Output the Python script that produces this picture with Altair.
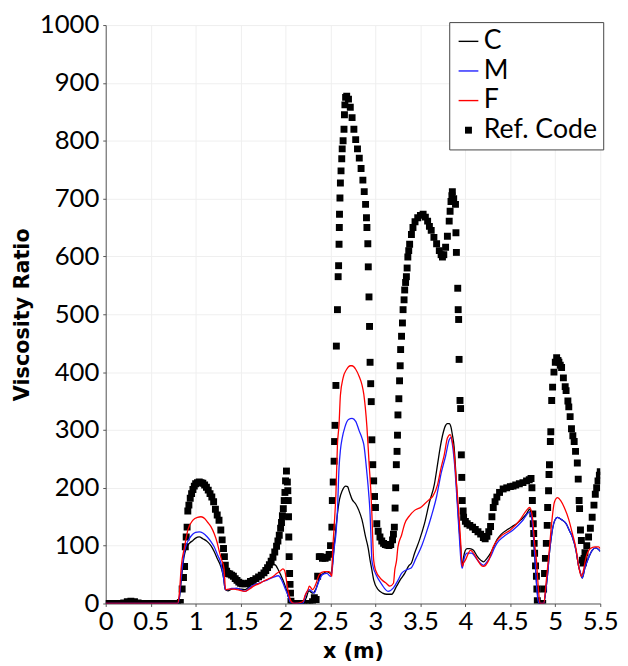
import altair as alt
import pandas as pd

SERIES = ["C", "M", "F", "Ref. Code"]
COLORS = ["#000000", "#1f1fff", "#ff0000", "#000000"]
BAR = "M-1,-0.07H1V0.07H-1Z"
SQUARE = "M-0.35,-0.35H0.35V0.35H-0.35Z"
SHAPES = [BAR, BAR, BAR, SQUARE]

X_TICKS = [0, 0.5, 1, 1.5, 2, 2.5, 3, 3.5, 4, 4.5, 5, 5.5]
Y_TICKS = list(range(0, 1001, 50))

REF_X = [0.00, 0.04, 0.08, 0.12, 0.16, 0.20, 0.24, 0.28, 0.32, 0.36, 0.40, 0.44, 0.48, 0.52, 0.56, 0.60,
         0.64, 0.68, 0.72, 0.76, 0.80, 0.83, 0.85, 0.865, 0.877, 0.885, 0.895, 0.905, 0.913, 0.925, 0.94,
         0.955, 0.97, 0.985, 1.00, 1.02, 1.04, 1.06, 1.08, 1.10, 1.12, 1.14, 1.16, 1.18, 1.20, 1.22, 1.24,
         1.26, 1.28, 1.295, 1.31, 1.32, 1.33, 1.345, 1.36, 1.38, 1.40, 1.42, 1.44, 1.46, 1.48, 1.50, 1.52,
         1.55, 1.58, 1.61, 1.64, 1.67, 1.70, 1.73, 1.76, 1.78, 1.80, 1.82, 1.84, 1.86, 1.88, 1.90, 1.915,
         1.93, 1.945, 1.955, 1.965, 1.975, 1.985, 1.993, 2.00, 2.01, 2.02, 2.025, 2.03, 2.033, 2.036, 2.04,
         2.045, 2.05, 2.055, 2.06, 2.08, 2.12, 2.16, 2.20, 2.24, 2.27, 2.30, 2.32, 2.34, 2.357, 2.375, 2.39,
         2.41, 2.44, 2.465, 2.485, 2.50, 2.515, 2.52, 2.53, 2.54, 2.545, 2.55, 2.56, 2.565, 2.577, 2.585,
         2.59, 2.595, 2.598, 2.60, 2.605, 2.61, 2.617, 2.625, 2.63, 2.64, 2.65, 2.655, 2.66, 2.668, 2.68,
         2.70, 2.72, 2.74, 2.76, 2.78, 2.80, 2.82, 2.84, 2.86, 2.875, 2.89, 2.90, 2.905, 2.915, 2.92, 2.928,
         2.934, 2.94, 2.947, 2.953, 2.96, 2.97, 2.98, 2.99, 3.00, 3.015, 3.03, 3.05, 3.07, 3.09, 3.11, 3.13,
         3.15, 3.17, 3.19, 3.20, 3.21, 3.218, 3.225, 3.232, 3.24, 3.245, 3.25, 3.26, 3.268, 3.275, 3.28,
         3.29, 3.30, 3.307, 3.318, 3.325, 3.335, 3.344, 3.352, 3.36, 3.37, 3.38, 3.40, 3.417, 3.44, 3.47,
         3.50, 3.53, 3.555, 3.58, 3.60, 3.62, 3.65, 3.68, 3.71, 3.73, 3.745, 3.76, 3.78, 3.80, 3.82, 3.83,
         3.84, 3.85, 3.855, 3.87, 3.89, 3.895, 3.90, 3.915, 3.92, 3.925, 3.93, 3.94, 3.947, 3.955, 3.96,
         3.965, 3.975, 3.98, 4.00, 4.02, 4.05, 4.08, 4.11, 4.14, 4.17, 4.20, 4.22, 4.24, 4.26, 4.28, 4.295,
         4.31, 4.33, 4.35, 4.38, 4.42, 4.46, 4.50, 4.53, 4.56, 4.60, 4.64, 4.68, 4.71, 4.73, 4.74, 4.745,
         4.75, 4.755, 4.76, 4.765, 4.77, 4.78, 4.79, 4.795, 4.80, 4.81, 4.83, 4.85, 4.86, 4.87, 4.88, 4.89,
         4.90, 4.91, 4.915, 4.925, 4.93, 4.935, 4.945, 4.95, 4.96, 4.97, 4.985, 5.00, 5.015, 5.03, 5.04,
         5.055, 5.07, 5.09, 5.11, 5.12, 5.14, 5.15, 5.165, 5.18, 5.195, 5.21, 5.225, 5.245, 5.255, 5.265,
         5.27, 5.28, 5.29, 5.30, 5.31, 5.32, 5.33, 5.35, 5.37, 5.39, 5.41, 5.43, 5.445, 5.46, 5.475, 5.49,
         5.50]
REF_Y = [0, 0, 0, 0, 0, 1, 3, 4, 3, 1, 0, 0, 0, 0, 0, 0,
         0, 0, 0, 0, 0, 2, 25, 45, 64, 98, 115, 132, 160, 170, 182,
         190, 197, 203, 207, 209, 210, 209, 208, 205, 201, 196, 190, 184, 176, 163, 153,
         144, 127, 110, 95, 81, 66, 56, 52, 51, 49, 47, 43, 40, 37, 35, 34,
         34, 35, 38, 40, 43, 46, 49, 53, 57, 62, 67, 73, 80, 89, 99, 108,
         118, 130, 140, 152, 164, 178, 192, 212, 229, 210, 195, 178, 150, 115, 81,
         52, 33, 18, 4, 0, 0, 0, 0, 0, 0, 3, 10, 7, 47, 81, 81,
         78, 78, 80, 85, 100, 132, 178, 210, 246, 280, 308, 377, 445, 508, 565,
         584, 621, 650, 673, 701, 727, 748, 769, 786, 800, 820, 845, 862, 875, 877,
         872, 858, 840, 820, 802, 786, 770, 752, 732, 712, 690, 667, 650, 622, 582, 530,
         479, 417, 380, 349, 283, 240, 212, 185, 166, 138, 125, 115, 108, 104, 102, 101,
         100, 102, 110, 120, 132, 165, 200, 240, 263, 291, 326, 354, 385, 411, 439,
         462, 485, 508, 525, 542, 555, 565, 580, 599, 610, 621, 638, 650, 660, 667,
         671, 673, 668, 661, 652, 645, 633, 622, 610, 603, 599, 603, 616, 635, 661, 678,
         695, 705, 712, 700, 690, 641, 607, 545, 508, 491, 422, 351, 337, 257, 218,
         178, 160, 149, 142, 138, 135, 132, 128, 124, 120, 114, 112, 116, 124, 133, 150,
         166, 176, 184, 192, 198, 200, 202, 203, 205, 207, 209, 212, 214, 216, 200, 178,
         155, 138, 121, 104, 87, 65, 47, 25, 5, -15, -30, -15, 0, 25, 52, 78,
         104, 135, 166, 195, 223, 240, 280, 297, 351, 374, 400, 417, 425, 420, 417,
         412, 408, 390, 375, 368, 350, 340, 323, 302, 290, 280, 263, 243, 215, 178,
         164, 127, 109, 75, 70, 78, 88, 100, 115, 130, 149, 170, 189, 200, 212, 222,
         228]

C_X = [0, 0.80, 0.82, 0.84, 0.87, 0.895, 0.93, 0.97, 1.0, 1.04, 1.08, 1.13, 1.17, 1.206, 1.24, 1.28, 1.31,
       1.33, 1.36, 1.40, 1.46, 1.50, 1.55, 1.60, 1.645, 1.70, 1.75, 1.80, 1.83, 1.86, 1.88, 1.92, 1.95,
       1.97, 2.00, 2.03, 2.06, 2.10, 2.20, 2.23, 2.26, 2.30, 2.34, 2.38, 2.42, 2.46, 2.50, 2.52, 2.54,
       2.56, 2.577, 2.60, 2.63, 2.67, 2.69, 2.71, 2.74, 2.78, 2.815, 2.85, 2.89, 2.92, 2.94, 2.96, 2.98,
       3.03, 3.08, 3.125, 3.18, 3.235, 3.28, 3.325, 3.37, 3.40, 3.435, 3.49, 3.545, 3.60, 3.655, 3.69,
       3.72, 3.745, 3.78, 3.80, 3.82, 3.84, 3.855, 3.875, 3.89, 3.91, 3.93, 3.95, 3.965, 3.98, 4.00, 4.02,
       4.05, 4.09, 4.13, 4.17, 4.20, 4.24, 4.28, 4.32, 4.35, 4.40, 4.46, 4.52, 4.57, 4.62, 4.68, 4.715,
       4.74, 4.76, 4.78, 4.80, 4.82, 4.87, 4.90, 4.92, 4.93, 4.96, 4.99, 5.025, 5.07, 5.12, 5.16, 5.19,
       5.23, 5.26, 5.285, 5.30, 5.33, 5.36, 5.41, 5.45, 5.50]
C_Y = [0, 0, 10, 40, 80, 95, 104, 109, 113, 115, 112, 107, 100, 90, 78, 64, 45,
       24, 22, 25, 26, 25, 24, 30, 35, 41, 47, 57, 64, 67, 67, 58, 48,
       41, 28, 13, 2, 0, 0, 10, 22, 18, 26, 45, 52, 55, 52, 65, 98,
       130, 155, 180, 195, 203, 202, 193, 180, 172, 161, 145, 115, 95, 75, 58, 41,
       24, 18, 16, 16, 30, 42, 52, 65, 70, 87, 110, 138, 175, 206, 240,
       270, 290, 308, 311, 311, 305, 292, 270, 235, 180, 132, 90, 64, 80, 92, 95,
       95, 92, 82, 75, 72, 78, 87, 100, 110, 120, 127, 133, 138, 145, 155, 163,
       150, 110, 60, 20, 0, 0, 30, 60, 80, 120, 142, 149, 145, 138, 125, 115,
       92, 64, 50, 44, 62, 75, 92, 96, 90]

M_X = [0, 0.80, 0.82, 0.84, 0.87, 0.895, 0.93, 0.97, 1.0, 1.04, 1.08, 1.13, 1.17, 1.206, 1.24, 1.28, 1.31,
       1.33, 1.36, 1.40, 1.46, 1.50, 1.55, 1.60, 1.645, 1.70, 1.75, 1.80, 1.86, 1.92, 1.955, 1.98, 2.00,
       2.03, 2.05, 2.10, 2.19, 2.23, 2.265, 2.32, 2.35, 2.41, 2.46, 2.50, 2.52, 2.54, 2.56, 2.577, 2.595,
       2.61, 2.63, 2.66, 2.70, 2.74, 2.78, 2.82, 2.85, 2.87, 2.905, 2.925, 2.94, 2.95, 2.96, 2.98, 3.00,
       3.07, 3.14, 3.20, 3.25, 3.29, 3.34, 3.40, 3.45, 3.51, 3.56, 3.62, 3.68, 3.73, 3.78, 3.82, 3.84,
       3.86, 3.88, 3.91, 3.935, 3.95, 3.965, 3.99, 4.02, 4.07, 4.12, 4.17, 4.20, 4.24, 4.28, 4.32, 4.35,
       4.42, 4.53, 4.64, 4.715, 4.74, 4.76, 4.78, 4.80, 4.82, 4.87, 4.90, 4.92, 4.93, 4.96, 4.99, 5.025,
       5.07, 5.12, 5.16, 5.19, 5.23, 5.26, 5.285, 5.30, 5.33, 5.36, 5.41, 5.45, 5.50]
M_Y = [0, 0, 12, 45, 85, 101, 112, 120, 123, 124, 122, 115, 107, 98, 85, 70, 45,
       24, 24, 26, 26, 24, 21, 27, 32, 35, 38, 41, 45, 48, 41, 32, 24,
       13, 3, 0, 0, 18, 24, 18, 30, 50, 52, 47, 60, 95, 120, 160, 235,
       265, 286, 305, 318, 320, 315, 298, 286, 275, 225, 190, 155, 115, 75, 60, 52,
       33, 21, 27, 40, 52, 58, 62, 78, 98, 120, 150, 185, 225, 255, 283, 287,
       270, 240, 172, 110, 75, 61, 80, 87, 87, 78, 69, 66, 72, 81, 95, 104,
       115, 127, 144, 158, 145, 110, 60, 15, 0, 0, 30, 60, 80, 120, 142, 149,
       145, 138, 125, 115, 92, 64, 50, 44, 62, 75, 92, 96, 90]

F_X = [0, 0.80, 0.82, 0.84, 0.877, 0.913, 0.97, 1.02, 1.06, 1.10, 1.13, 1.17, 1.206, 1.24, 1.26, 1.29,
       1.316, 1.333, 1.37, 1.42, 1.46, 1.55, 1.60, 1.645, 1.70, 1.75, 1.80, 1.865, 1.90, 1.94, 1.97, 1.99,
       2.01, 2.03, 2.046, 2.065, 2.10, 2.19, 2.22, 2.25, 2.265, 2.30, 2.34, 2.375, 2.43, 2.485, 2.515,
       2.52, 2.54, 2.56, 2.577, 2.595, 2.61, 2.64, 2.68, 2.72, 2.74, 2.78, 2.82, 2.85, 2.87, 2.905, 2.93,
       2.95, 2.96, 2.98, 3.00, 3.07, 3.12, 3.16, 3.20, 3.215, 3.235, 3.25, 3.29, 3.325, 3.38, 3.435,
       3.51, 3.545, 3.60, 3.64, 3.69, 3.73, 3.765, 3.80, 3.83, 3.855, 3.875, 3.89, 3.91, 3.93, 3.95,
       3.965, 3.98, 4.00, 4.057, 4.10, 4.14, 4.17, 4.20, 4.26, 4.31, 4.385, 4.50, 4.605, 4.68, 4.715,
       4.74, 4.75, 4.77, 4.79, 4.81, 4.83, 4.87, 4.90, 4.93, 4.96, 4.99, 5.025, 5.06, 5.10, 5.15, 5.19,
       5.23, 5.26, 5.29, 5.31, 5.335, 5.36, 5.39, 5.44, 5.48, 5.50]
F_Y = [0, 0, 20, 64, 98, 127, 144, 149, 150, 147, 141, 133, 121, 105, 92, 75,
       60, 24, 25, 25, 24, 21, 25, 30, 34, 38, 42, 47, 52, 56, 60, 57,
       40, 20, 10, 3, 0, 3, 15, 24, 30, 24, 35, 50, 55, 55, 47,
       75, 132, 189, 274, 310, 360, 390, 405, 411, 411, 405, 392, 378, 362, 305, 240,
       190, 155, 75, 58, 41, 35, 30, 35, 58, 75, 98, 118, 138, 152, 161,
       167, 172, 180, 186, 205, 235, 257, 286, 292, 280, 260, 229, 190, 149, 100,
       64, 70, 75, 92, 85, 74, 67, 64, 75, 98, 115, 127, 144, 161, 166,
       155, 144, 104, 75, 30, 0, 0, 40, 87, 140, 175, 183, 178, 166, 145, 121,
       95, 64, 47, 55, 75, 88, 95, 98, 98, 95]

FONT = "Lato"
TITLE_FONT = "DejaVu Sans"

ref_df = pd.DataFrame({"x": REF_X, "y": REF_Y, "series": "Ref. Code"})
c_df = pd.DataFrame({"x": C_X, "y": C_Y})
m_df = pd.DataFrame({"x": M_X, "y": M_Y})
f_df = pd.DataFrame({"x": F_X, "y": F_Y})

xscale = alt.Scale(domain=[0, 5.5], nice=False, zero=False)
yscale = alt.Scale(domain=[0, 1000], nice=False)

x_axis = alt.Axis(values=X_TICKS, format="~g", title="x (m)", labelOverlap=False,
                  labelFlush=False, tickSize=3, labelPadding=2, titlePadding=7)
y_axis = alt.Axis(values=Y_TICKS, labelExpr="datum.value % 100 === 0 ? datum.label : ''",
                  title="Viscosity Ratio", labelOverlap=False, tickSize=3, labelPadding=4,
                  titlePadding=7, format="d")

legend = alt.Legend(title=None, orient="none", legendX=348, legendY=-3, fillColor="white",
                    strokeColor="#444444", padding=6, labelFont=FONT, labelFontSize=27,
                    labelColor="black", symbolSize=400, symbolStrokeWidth=0, rowPadding=2,
                    labelOffset=2, labelLimit=400, symbolType="square")

ref = alt.Chart(ref_df).mark_point(filled=True, size=400, opacity=1, clip=True).encode(
    x=alt.X("x:Q", scale=xscale, axis=x_axis),
    y=alt.Y("y:Q", scale=yscale, axis=y_axis),
    color=alt.Color("series:N", scale=alt.Scale(domain=SERIES, range=COLORS), legend=legend),
    shape=alt.Shape("series:N", scale=alt.Scale(domain=SERIES, range=SHAPES), legend=legend),
)

def line(df, color):
    return alt.Chart(df).mark_line(color=color, strokeWidth=1.3, interpolate="monotone", clip=True).encode(
        x=alt.X("x:Q", scale=xscale),
        y=alt.Y("y:Q", scale=yscale),
    )

chart = alt.layer(ref, line(c_df, COLORS[0]), line(m_df, COLORS[1]), line(f_df, COLORS[2])).properties(
    width=501, height=586,
    autosize=alt.AutoSizeParams(type="none"),
    padding={"left": 99, "top": 13, "right": 20, "bottom": 57},
).configure_view(stroke=None).configure_axis(
    labelFont=FONT, labelFontSize=26, labelColor="black", titleFont=TITLE_FONT, titleFontSize=21,
    titleFontWeight="bold", titleColor="black", gridColor="#efefef", gridWidth=1,
    domainColor="#555555", tickColor="#555555", domainWidth=1,
)

chart.save("out.html", embed_options={"renderer": "svg", "actions": False})
